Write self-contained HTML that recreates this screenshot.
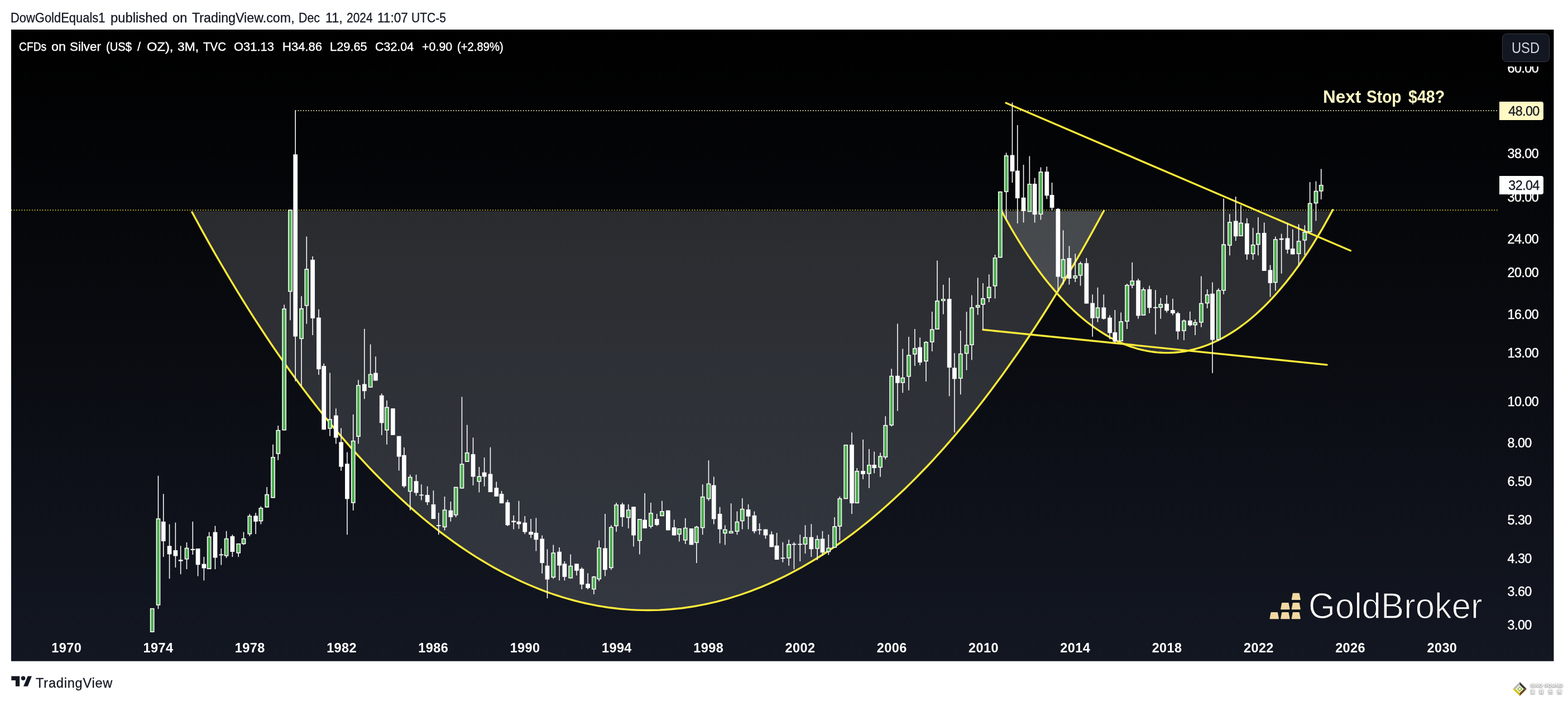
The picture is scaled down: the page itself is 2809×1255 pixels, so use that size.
<!DOCTYPE html>
<html lang="en">
<head>
<meta charset="utf-8">
<title>CFDs on Silver (US$ / OZ) - TradingView</title>
<style>
*{margin:0;padding:0;box-sizing:border-box}
html,body{width:2809px;height:1255px;background:#fff;overflow:hidden}
body{position:relative;font-family:"Liberation Sans","Noto Sans CJK TC",sans-serif;color:#131722}
.g{position:absolute;left:0;top:0}
.t{position:absolute;white-space:nowrap;line-height:1;transform-origin:0 0}
.hdr{top:20.8px;font-size:23.5px;color:#131722;-webkit-text-stroke:.3px #131722}
.lg{top:73px;font-size:22.5px;color:#fff;-webkit-text-stroke:.4px #fff}
.pl{position:absolute;left:2700.6px;width:80px;height:28px;line-height:28px;text-align:left;font-size:23.4px;letter-spacing:-.6px;color:#fff;white-space:nowrap;-webkit-text-stroke:.4px #fff}
.tl{position:absolute;top:1145.7px;width:80px;height:28px;line-height:28px;text-align:center;font-size:23.5px;letter-spacing:.4px;font-weight:bold;color:#fff;white-space:nowrap}
.mask{position:absolute;left:2686px;top:53px;width:97px;height:65.5px;background:linear-gradient(#000,#010102)}
.usd{position:absolute;left:2691px;top:60px;width:84.5px;height:50.5px;border:1.5px solid #363a45;border-radius:8px;background:#131722;color:#d1d4dc;font-size:27.5px;line-height:48px;text-align:center}
.usd span{display:inline-block;transform:scaleX(.865);position:relative;top:.8px}
.tag{position:absolute;left:2685.8px;width:79px;height:32.8px;border-radius:.5px 4px 4px .5px;line-height:34.2px;font-size:23.4px;letter-spacing:-.6px;color:#131722;text-align:right;padding-right:7px;white-space:nowrap;-webkit-text-stroke:.3px #131722}
.note{top:158.2px;font-size:31.4px;font-weight:bold;color:#fff9c4}
.gb{left:2344.2px;top:1051.8px;font-size:65.3px;color:#fff;transform:scaleX(.943);-webkit-text-stroke:1.3px #12151e}
.tv{left:64px;top:1211.7px;font-size:23.5px;letter-spacing:.8px;color:#131722;-webkit-text-stroke:.3px #131722}
.wm{position:absolute;left:2741px;top:1223.3px;width:58px;color:#fff;font-weight:bold;text-shadow:0 1px 2px rgba(0,0,0,.55),0 0 3px rgba(0,0,0,.35);white-space:nowrap;line-height:1}
</style>
</head>
<body>
<svg class="g" width="2809" height="1255" viewBox="0 0 2809 1255">
<defs><linearGradient id="bg" x1="0" y1="0" x2="0" y2="1"><stop offset="0" stop-color="#000000"/><stop offset="1" stop-color="#131722"/></linearGradient><clipPath id="pc"><rect x="20" y="53" width="2665.5" height="1079"/></clipPath></defs>
<rect x="20" y="53" width="2763.5" height="1130.7" fill="url(#bg)"/>
<path d="M344 378 L344 379.7 L354.2 398.5 L364.4 417.1 L374.6 435.3 L384.8 453.3 L395.1 471 L405.3 488.4 L415.5 505.5 L425.7 522.3 L435.9 538.8 L446.1 555.1 L456.3 571.1 L466.5 586.8 L476.7 602.3 L486.9 617.5 L497.1 632.4 L507.4 647.1 L517.6 661.5 L527.8 675.6 L538 689.4 L548.2 703.1 L558.4 716.4 L568.6 729.5 L578.8 742.3 L589 754.9 L599.2 767.3 L609.5 779.4 L619.7 791.2 L629.9 802.8 L640.1 814.1 L650.3 825.2 L660.5 836.1 L670.7 846.7 L680.9 857.1 L691.1 867.3 L701.4 877.2 L711.6 886.8 L721.8 896.3 L732 905.5 L742.2 914.4 L752.4 923.2 L762.6 931.7 L772.8 940 L783 948 L793.2 955.8 L803.5 963.4 L813.7 970.8 L823.9 978 L834.1 984.9 L844.3 991.6 L854.5 998.1 L864.7 1004.3 L874.9 1010.4 L885.1 1016.2 L895.3 1021.8 L905.5 1027.2 L915.8 1032.3 L926 1037.3 L936.2 1042 L946.4 1046.5 L956.6 1050.8 L966.8 1054.9 L977 1058.8 L987.2 1062.5 L997.4 1065.9 L1007.6 1069.2 L1017.9 1072.2 L1028.1 1075 L1038.3 1077.6 L1048.5 1080 L1058.7 1082.2 L1068.9 1084.2 L1079.1 1085.9 L1089.3 1087.5 L1099.5 1088.8 L1109.8 1090 L1120 1090.9 L1130.2 1091.6 L1140.4 1092.1 L1150.6 1092.4 L1160.8 1092.5 L1171 1092.4 L1181.2 1092.1 L1191.4 1091.5 L1201.6 1090.8 L1211.8 1089.8 L1222.1 1088.7 L1232.3 1087.3 L1242.5 1085.7 L1252.7 1083.9 L1262.9 1081.9 L1273.1 1079.7 L1283.3 1077.3 L1293.5 1074.6 L1303.7 1071.8 L1314 1068.7 L1324.2 1065.5 L1334.4 1062 L1344.6 1058.3 L1354.8 1054.4 L1365 1050.3 L1375.2 1046 L1385.4 1041.4 L1395.6 1036.6 L1405.8 1031.7 L1416 1026.5 L1426.3 1021.1 L1436.5 1015.4 L1446.7 1009.6 L1456.9 1003.5 L1467.1 997.2 L1477.3 990.7 L1487.5 984 L1497.7 977 L1507.9 969.8 L1518.2 962.4 L1528.4 954.8 L1538.6 947 L1548.8 938.9 L1559 930.6 L1569.2 922 L1579.4 913.3 L1589.6 904.3 L1599.8 895 L1610 885.6 L1620.2 875.9 L1630.5 865.9 L1640.7 855.7 L1650.9 845.3 L1661.1 834.7 L1671.3 823.8 L1681.5 812.6 L1691.7 801.3 L1701.9 789.6 L1712.1 777.8 L1722.3 765.6 L1732.6 753.3 L1742.8 740.6 L1753 727.8 L1763.2 714.6 L1773.4 701.3 L1783.6 687.6 L1793.8 673.7 L1804 659.5 L1814.2 645.1 L1824.5 630.4 L1834.7 615.5 L1844.9 600.3 L1855.1 584.8 L1865.3 569 L1875.5 553 L1885.7 536.7 L1895.9 520.1 L1906.1 503.2 L1916.3 486.1 L1926.5 468.6 L1936.8 450.9 L1947 432.9 L1957.2 414.6 L1967.4 396 L1977.6 377.2 L1977.6 378 Z" fill="#b2b3b9" fill-opacity="0.215"/>
<path d="M1794.4 378 L1794.4 378.1 L1800.3 389 L1806.3 399.6 L1812.2 410 L1818.1 420 L1824.1 429.8 L1830 439.3 L1835.9 448.6 L1841.9 457.6 L1847.8 466.3 L1853.7 474.7 L1859.7 482.9 L1865.6 490.9 L1871.5 498.6 L1877.4 506 L1883.4 513.2 L1889.3 520.2 L1895.2 527 L1901.2 533.5 L1907.1 539.7 L1913 545.8 L1919 551.6 L1924.9 557.2 L1930.8 562.6 L1936.8 567.8 L1942.7 572.7 L1948.6 577.5 L1954.6 582 L1960.5 586.3 L1966.4 590.4 L1972.4 594.3 L1978.3 598 L1984.2 601.5 L1990.2 604.9 L1996.1 608 L2002 610.9 L2008 613.6 L2013.9 616.1 L2019.8 618.4 L2025.7 620.6 L2031.7 622.5 L2037.6 624.3 L2043.5 625.8 L2049.5 627.2 L2055.4 628.4 L2061.3 629.4 L2067.3 630.2 L2073.2 630.9 L2079.1 631.3 L2085.1 631.6 L2091 631.6 L2096.9 631.5 L2102.9 631.2 L2108.8 630.7 L2114.7 630.1 L2120.7 629.2 L2126.6 628.2 L2132.5 626.9 L2138.5 625.5 L2144.4 623.9 L2150.3 622.1 L2156.3 620.1 L2162.2 618 L2168.1 615.6 L2174 613 L2180 610.3 L2185.9 607.3 L2191.8 604.2 L2197.8 600.8 L2203.7 597.3 L2209.6 593.5 L2215.6 589.6 L2221.5 585.4 L2227.4 581 L2233.4 576.5 L2239.3 571.7 L2245.2 566.7 L2251.2 561.5 L2257.1 556 L2263 550.4 L2269 544.5 L2274.9 538.4 L2280.8 532.1 L2286.8 525.5 L2292.7 518.7 L2298.6 511.7 L2304.6 504.4 L2310.5 496.9 L2316.4 489.2 L2322.3 481.2 L2328.3 472.9 L2334.2 464.4 L2340.1 455.6 L2346.1 446.6 L2352 437.3 L2357.9 427.7 L2363.9 417.9 L2369.8 407.8 L2375.7 397.4 L2381.7 386.7 L2387.6 375.7 L2387.6 378 Z" fill="#b2b3b9" fill-opacity="0.215"/>
<line x1="529" y1="198.1" x2="2684.5" y2="198.1" stroke="#fff9c4" stroke-width="1.6" stroke-dasharray="1.6 3.036"/>
<line x1="20" y1="376.2" x2="2684.5" y2="376.2" stroke="#ffeb3b" stroke-width="1.6" stroke-dasharray="1.6 3.036"/>
<g fill="none" stroke="#ffeb3b" stroke-width="3.4" stroke-linecap="round" stroke-linejoin="round">
<path d="M344 379.7 L354.2 398.5 L364.4 417.1 L374.6 435.3 L384.8 453.3 L395.1 471 L405.3 488.4 L415.5 505.5 L425.7 522.3 L435.9 538.8 L446.1 555.1 L456.3 571.1 L466.5 586.8 L476.7 602.3 L486.9 617.5 L497.1 632.4 L507.4 647.1 L517.6 661.5 L527.8 675.6 L538 689.4 L548.2 703.1 L558.4 716.4 L568.6 729.5 L578.8 742.3 L589 754.9 L599.2 767.3 L609.5 779.4 L619.7 791.2 L629.9 802.8 L640.1 814.1 L650.3 825.2 L660.5 836.1 L670.7 846.7 L680.9 857.1 L691.1 867.3 L701.4 877.2 L711.6 886.8 L721.8 896.3 L732 905.5 L742.2 914.4 L752.4 923.2 L762.6 931.7 L772.8 940 L783 948 L793.2 955.8 L803.5 963.4 L813.7 970.8 L823.9 978 L834.1 984.9 L844.3 991.6 L854.5 998.1 L864.7 1004.3 L874.9 1010.4 L885.1 1016.2 L895.3 1021.8 L905.5 1027.2 L915.8 1032.3 L926 1037.3 L936.2 1042 L946.4 1046.5 L956.6 1050.8 L966.8 1054.9 L977 1058.8 L987.2 1062.5 L997.4 1065.9 L1007.6 1069.2 L1017.9 1072.2 L1028.1 1075 L1038.3 1077.6 L1048.5 1080 L1058.7 1082.2 L1068.9 1084.2 L1079.1 1085.9 L1089.3 1087.5 L1099.5 1088.8 L1109.8 1090 L1120 1090.9 L1130.2 1091.6 L1140.4 1092.1 L1150.6 1092.4 L1160.8 1092.5 L1171 1092.4 L1181.2 1092.1 L1191.4 1091.5 L1201.6 1090.8 L1211.8 1089.8 L1222.1 1088.7 L1232.3 1087.3 L1242.5 1085.7 L1252.7 1083.9 L1262.9 1081.9 L1273.1 1079.7 L1283.3 1077.3 L1293.5 1074.6 L1303.7 1071.8 L1314 1068.7 L1324.2 1065.5 L1334.4 1062 L1344.6 1058.3 L1354.8 1054.4 L1365 1050.3 L1375.2 1046 L1385.4 1041.4 L1395.6 1036.6 L1405.8 1031.7 L1416 1026.5 L1426.3 1021.1 L1436.5 1015.4 L1446.7 1009.6 L1456.9 1003.5 L1467.1 997.2 L1477.3 990.7 L1487.5 984 L1497.7 977 L1507.9 969.8 L1518.2 962.4 L1528.4 954.8 L1538.6 947 L1548.8 938.9 L1559 930.6 L1569.2 922 L1579.4 913.3 L1589.6 904.3 L1599.8 895 L1610 885.6 L1620.2 875.9 L1630.5 865.9 L1640.7 855.7 L1650.9 845.3 L1661.1 834.7 L1671.3 823.8 L1681.5 812.6 L1691.7 801.3 L1701.9 789.6 L1712.1 777.8 L1722.3 765.6 L1732.6 753.3 L1742.8 740.6 L1753 727.8 L1763.2 714.6 L1773.4 701.3 L1783.6 687.6 L1793.8 673.7 L1804 659.5 L1814.2 645.1 L1824.5 630.4 L1834.7 615.5 L1844.9 600.3 L1855.1 584.8 L1865.3 569 L1875.5 553 L1885.7 536.7 L1895.9 520.1 L1906.1 503.2 L1916.3 486.1 L1926.5 468.6 L1936.8 450.9 L1947 432.9 L1957.2 414.6 L1967.4 396 L1977.6 377.2"/>
<path d="M1794.4 378.1 L1800.3 389 L1806.3 399.6 L1812.2 410 L1818.1 420 L1824.1 429.8 L1830 439.3 L1835.9 448.6 L1841.9 457.6 L1847.8 466.3 L1853.7 474.7 L1859.7 482.9 L1865.6 490.9 L1871.5 498.6 L1877.4 506 L1883.4 513.2 L1889.3 520.2 L1895.2 527 L1901.2 533.5 L1907.1 539.7 L1913 545.8 L1919 551.6 L1924.9 557.2 L1930.8 562.6 L1936.8 567.8 L1942.7 572.7 L1948.6 577.5 L1954.6 582 L1960.5 586.3 L1966.4 590.4 L1972.4 594.3 L1978.3 598 L1984.2 601.5 L1990.2 604.9 L1996.1 608 L2002 610.9 L2008 613.6 L2013.9 616.1 L2019.8 618.4 L2025.7 620.6 L2031.7 622.5 L2037.6 624.3 L2043.5 625.8 L2049.5 627.2 L2055.4 628.4 L2061.3 629.4 L2067.3 630.2 L2073.2 630.9 L2079.1 631.3 L2085.1 631.6 L2091 631.6 L2096.9 631.5 L2102.9 631.2 L2108.8 630.7 L2114.7 630.1 L2120.7 629.2 L2126.6 628.2 L2132.5 626.9 L2138.5 625.5 L2144.4 623.9 L2150.3 622.1 L2156.3 620.1 L2162.2 618 L2168.1 615.6 L2174 613 L2180 610.3 L2185.9 607.3 L2191.8 604.2 L2197.8 600.8 L2203.7 597.3 L2209.6 593.5 L2215.6 589.6 L2221.5 585.4 L2227.4 581 L2233.4 576.5 L2239.3 571.7 L2245.2 566.7 L2251.2 561.5 L2257.1 556 L2263 550.4 L2269 544.5 L2274.9 538.4 L2280.8 532.1 L2286.8 525.5 L2292.7 518.7 L2298.6 511.7 L2304.6 504.4 L2310.5 496.9 L2316.4 489.2 L2322.3 481.2 L2328.3 472.9 L2334.2 464.4 L2340.1 455.6 L2346.1 446.6 L2352 437.3 L2357.9 427.7 L2363.9 417.9 L2369.8 407.8 L2375.7 397.4 L2381.7 386.7 L2387.6 375.7"/>
<path d="M1802.1 184.3 L2419.4 448.8"/>
<path d="M1760.9 590.2 L2377 653.1"/>
</g>
<g clip-path="url(#pc)">
<path d="M272.66 1088.9V1131.9M283.48 851.7V1090.2M292.75 884.3V997.1M303.57 938.5V1036M314.39 935.4V1015.9M323.66 977.3V1028.1M334.48 971.1V1019M345.3 933.8V993M354.57 982V1031.5M365.39 997.1V1039.3M374.66 952.6V1019M385.48 941.6V1019M396.3 982V1011.5M405.57 950.7V999M416.39 957.3V997.1M427.21 972.9V997.1M436.48 952.6V975.5M447.3 920.3V959.9M458.12 918.2V956M467.39 906.4V938.5M478.21 872.1V908.5M489.03 795.8V891.6M498.3 762V823.7M509.12 545.4V770.6M519.94 375.4V573.3M529.21 197.7V682.6M540.03 530.3V691.6M549.3 423.6V579.8M560.12 459.1V599.9M570.94 553.7V670.9M580.21 650.8V769.3M591.03 667.5V780.7M601.84 731.2V794.5M611.12 766.6V842.7M621.94 809.6V957.3M632.75 741.9V913.7M642.03 680.3V794.5M652.84 588.8V714.3M663.66 616.4V693.8M672.94 638.3V681.6M683.75 704.6V778.9M693.03 717.1V795.8M703.84 731.2V778.9M714.66 780.7V842.4M723.94 800.9V873.3M734.75 849.8V913.7M745.57 849.8V887.4M754.84 867.3V895.4M765.66 870.4V904.3M776.48 878.2V929.1M785.75 918.1V957.2M796.57 888.9V949.4M807.39 898V933.7M816.66 871.7V925.9M827.48 710.6V874.6M836.75 760.7V826.9M847.57 783.4V869.1M858.39 836V881.6M867.66 819.1V870.7M878.48 800.8V881.1M889.3 862.6V888.9M898.57 879V901.2M909.39 894.7V942.1M920.21 922.8V947.6M929.48 896.7V946.8M940.3 924.1V955.9M951.12 929.1V963.2M960.39 927.2V986.6M971.21 958.5V1026.8M980.48 983.3V1071.3M991.3 975.4V1036.2M1002.12 980.1V1039.3M1011.39 1004.9V1039.3M1022.21 992.4V1035.4M1033.03 1009.3V1030.2M1042.3 1015.8V1054.9M1053.12 1026.3V1054.9M1063.93 1030.9V1064M1073.21 967.6V1040.6M1084.02 919.9V1031.5M1094.84 940.3V1020.3M1104.12 899.9V952M1114.93 899.9V942.9M1125.75 903V946M1135.02 907.2V978.6M1145.84 929.1V992.4M1155.12 882.9V946M1165.93 899.9V946M1176.75 919.9V941.6M1186.02 896.7V924.1M1196.84 913.7V949.4M1207.66 930.6V958.5M1216.93 946V969.4M1227.75 927.8V974.1M1238.57 946V975.4M1247.84 941.6V1008M1258.66 867.3V957.2M1269.48 824.3V896.5M1278.75 853.5V938.4M1289.57 907.7V972.8M1298.84 940.3V975.4M1309.66 901.2V955.1M1320.48 915.5V957.2M1329.75 892.1V947.6M1340.57 903V947.6M1351.39 915.5V955.1M1360.66 936.9V957.2M1371.48 947.6V964.5M1382.3 951.2V979.3M1391.57 954.1V1002M1402.39 970.7V1006.7M1413.21 966.3V1012.7M1422.48 970.7V1019M1433.3 957.2V1004.9M1442.57 940.3V991.1M1453.39 938.2V997.1M1464.21 958.5V1002.8M1473.48 950.7V995M1484.3 957.1V993.6M1495.11 925.9V980.6M1504.39 888.9V967.6M1515.21 796.1V893.3M1526.02 774.2V919.9M1535.3 838V901.1M1546.11 787V858.1M1556.93 803.9V873.7M1566.21 808.6V847.2M1577.02 810.4V853.7M1586.3 745.3V822.4M1597.11 660.2V763.5M1607.93 579.4V735.7M1617.21 624.5V703.2M1628.02 602.9V698.8M1638.84 589.1V655M1648.11 604.2V653.7M1658.93 610.7V683.1M1669.75 558V628.9M1679.02 466.6V589.8M1689.84 509.8V562.5M1700.66 497.3V709.2M1709.93 632.3V774.2M1720.75 591.9V706.3M1731.57 558V662.8M1740.84 528.6V644.6M1751.66 497.3V563.8M1760.93 507V590.6M1771.75 491.3V541.1M1782.57 455.9V534.6M1791.84 342.8V461.4M1802.66 273.5V394.1M1813.48 183.6V327.1M1822.75 223.9V400.1M1833.57 295.1V398.5M1844.39 279.4V379.3M1853.66 318.5V398.5M1864.48 299.5V393.6M1875.3 298.2V356.3M1884.57 327.1V376.6M1895.39 372.5V521M1904.66 412.3V509.6M1915.48 440.4V509.6M1926.3 454.2V505.1M1935.57 468.3V511.6M1946.39 462V543.5M1957.2 527.2V602.8M1966.48 514.7V576.7M1977.3 527.2V572M1988.11 564.2V607.2M1997.39 555V615M2008.2 559.5V611.1M2019.02 508.1V588.9M2028.29 469.8V516M2039.11 499V570.7M2048.39 514.7V565M2059.2 511.5V560.8M2070.02 519.3V598.6M2079.29 533.4V570.7M2090.11 528.5V559.5M2100.93 534.7V564.2M2110.2 558.2V607.7M2121.02 572V609M2131.84 557.7V584.2M2141.11 572V599.9M2151.93 494.6V585.8M2162.75 518V551.9M2172.02 505.5V667.9M2182.84 516.3V610.3M2192.11 355.6V526.9M2202.93 383.3V457.3M2213.75 352V431.2M2223.02 367.6V422.9M2233.84 390.8V465.1M2244.66 407.8V465.1M2253.93 389V457.3M2264.75 398.6V485M2275.57 474.6V531.6M2284.84 423.4V520.6M2295.66 418.4V489.8M2306.48 398.9V454.1M2315.75 410.6V455.4M2326.57 401.5V475.8M2337.38 403.3V456.7M2346.66 325.9V415.6M2357.48 324.4V395.5M2366.75 302.5V356.9" stroke="#fff" stroke-width="1.55" fill="none"/>
<g fill="#fff"><rect x="268.8" y="1088.9" width="7.73" height="43"/><rect x="279.62" y="928.1" width="7.73" height="155.6"/><rect x="288.88" y="933.8" width="7.73" height="35.2"/><rect x="299.7" y="977.3" width="7.73" height="15.1"/><rect x="310.52" y="985.1" width="7.73" height="10.4"/><rect x="319.8" y="1002.1" width="7.73" height="2.6"/><rect x="330.62" y="980.7" width="7.73" height="20.8"/><rect x="341.44" y="982.8" width="7.73" height="2.1"/><rect x="350.7" y="982" width="7.73" height="29.2"/><rect x="361.52" y="1009.6" width="7.73" height="7.8"/><rect x="370.8" y="960.4" width="7.73" height="58.6"/><rect x="381.62" y="952.6" width="7.73" height="45.9"/><rect x="392.44" y="992.4" width="7.73" height="1.8"/><rect x="401.7" y="963.8" width="7.73" height="31.8"/><rect x="412.52" y="959.9" width="7.73" height="28.1"/><rect x="423.34" y="972.9" width="7.73" height="17.7"/><rect x="432.62" y="963.8" width="7.73" height="10.4"/><rect x="443.44" y="923.4" width="7.73" height="33.1"/><rect x="454.25" y="923.4" width="7.73" height="10.4"/><rect x="463.52" y="909.1" width="7.73" height="24.2"/><rect x="474.34" y="884.8" width="7.73" height="23.7"/><rect x="485.16" y="818" width="7.73" height="73.6"/><rect x="494.44" y="769.8" width="7.73" height="43"/><rect x="505.25" y="552.4" width="7.73" height="218.1"/><rect x="516.08" y="375.4" width="7.73" height="147"/><rect x="525.35" y="276.4" width="7.73" height="326.1"/><rect x="536.16" y="551.9" width="7.73" height="55.1"/><rect x="545.43" y="481.3" width="7.73" height="66.4"/><rect x="556.25" y="465" width="7.73" height="104.9"/><rect x="567.08" y="568.6" width="7.73" height="92.5"/><rect x="576.35" y="655.2" width="7.73" height="114"/><rect x="587.16" y="750.2" width="7.73" height="17.5"/><rect x="597.98" y="743.7" width="7.73" height="39.9"/><rect x="607.25" y="791.4" width="7.73" height="44.3"/><rect x="618.08" y="830.2" width="7.73" height="63.2"/><rect x="628.88" y="788.8" width="7.73" height="111.9"/><rect x="638.16" y="689.4" width="7.73" height="92.6"/><rect x="648.98" y="687.6" width="7.73" height="12.6"/><rect x="659.79" y="669.6" width="7.73" height="24.2"/><rect x="669.08" y="667.6" width="7.73" height="13.9"/><rect x="679.88" y="707.8" width="7.73" height="49.5"/><rect x="689.16" y="728.6" width="7.73" height="42"/><rect x="699.98" y="731.2" width="7.73" height="47.7"/><rect x="710.79" y="780.7" width="7.73" height="36.9"/><rect x="720.08" y="814.8" width="7.73" height="55.7"/><rect x="730.88" y="853.7" width="7.73" height="26.6"/><rect x="741.71" y="861.3" width="7.73" height="21.1"/><rect x="750.98" y="885.5" width="7.73" height="1.8"/><rect x="761.79" y="886.1" width="7.73" height="13"/><rect x="772.62" y="903" width="7.73" height="26.1"/><rect x="781.88" y="940" width="7.73" height="1.8"/><rect x="792.71" y="912.4" width="7.73" height="31.8"/><rect x="803.52" y="913.7" width="7.73" height="12.2"/><rect x="812.79" y="871.7" width="7.73" height="50.8"/><rect x="823.62" y="830.3" width="7.73" height="44.3"/><rect x="832.88" y="810" width="7.73" height="16.9"/><rect x="843.71" y="813.1" width="7.73" height="40.4"/><rect x="854.52" y="852.4" width="7.73" height="10.2"/><rect x="863.79" y="845.7" width="7.73" height="7.8"/><rect x="874.62" y="848.5" width="7.73" height="32.6"/><rect x="885.43" y="873.3" width="7.73" height="15.6"/><rect x="894.71" y="884.2" width="7.73" height="16.9"/><rect x="905.52" y="899.3" width="7.73" height="40.9"/><rect x="916.35" y="932.4" width="7.73" height="2.6"/><rect x="925.62" y="933.7" width="7.73" height="4.7"/><rect x="936.43" y="935.6" width="7.73" height="16.9"/><rect x="947.25" y="952" width="7.73" height="5.2"/><rect x="956.52" y="953.8" width="7.73" height="12.5"/><rect x="967.35" y="964.5" width="7.73" height="43.5"/><rect x="976.62" y="1012.7" width="7.73" height="24.8"/><rect x="987.43" y="989.3" width="7.73" height="44.8"/><rect x="998.25" y="987.7" width="7.73" height="24.8"/><rect x="1007.52" y="1009.3" width="7.73" height="23.5"/><rect x="1018.35" y="1012.7" width="7.73" height="22.7"/><rect x="1029.16" y="1009.3" width="7.73" height="12.5"/><rect x="1038.43" y="1018.4" width="7.73" height="28.1"/><rect x="1049.25" y="1045" width="7.73" height="7.8"/><rect x="1060.07" y="1032.2" width="7.73" height="23.2"/><rect x="1069.35" y="980.1" width="7.73" height="57.1"/><rect x="1080.15" y="981.4" width="7.73" height="38.8"/><rect x="1090.97" y="943.4" width="7.73" height="73.7"/><rect x="1100.25" y="903.3" width="7.73" height="38.8"/><rect x="1111.07" y="903" width="7.73" height="22.9"/><rect x="1121.88" y="912.4" width="7.73" height="14.9"/><rect x="1131.15" y="907.2" width="7.73" height="51.3"/><rect x="1141.97" y="929.1" width="7.73" height="39.3"/><rect x="1151.25" y="930.6" width="7.73" height="15.4"/><rect x="1162.07" y="918.1" width="7.73" height="24.8"/><rect x="1172.88" y="929.1" width="7.73" height="10.7"/><rect x="1182.15" y="915" width="7.73" height="9.1"/><rect x="1192.97" y="913.7" width="7.73" height="35.7"/><rect x="1203.8" y="944.2" width="7.73" height="14.3"/><rect x="1213.07" y="946" width="7.73" height="11.2"/><rect x="1223.88" y="944.7" width="7.73" height="22.9"/><rect x="1234.7" y="946" width="7.73" height="29.4"/><rect x="1243.97" y="942.9" width="7.73" height="29.2"/><rect x="1254.8" y="888.9" width="7.73" height="56.5"/><rect x="1265.62" y="865.5" width="7.73" height="27.9"/><rect x="1274.88" y="868.6" width="7.73" height="60.7"/><rect x="1285.7" y="919.9" width="7.73" height="27.6"/><rect x="1294.97" y="947.6" width="7.73" height="7.6"/><rect x="1305.8" y="950.7" width="7.73" height="4.4"/><rect x="1316.62" y="933.7" width="7.73" height="18.2"/><rect x="1325.88" y="910.8" width="7.73" height="22.4"/><rect x="1336.7" y="912.1" width="7.73" height="12.5"/><rect x="1347.53" y="922.8" width="7.73" height="28.4"/><rect x="1356.8" y="947.6" width="7.73" height="1.8"/><rect x="1367.62" y="947.6" width="7.73" height="10.9"/><rect x="1378.43" y="956.7" width="7.73" height="22.7"/><rect x="1387.7" y="976.7" width="7.73" height="25.3"/><rect x="1398.53" y="998.4" width="7.73" height="1.8"/><rect x="1409.35" y="974.1" width="7.73" height="25.5"/><rect x="1418.62" y="973.6" width="7.73" height="1.8"/><rect x="1429.43" y="973.6" width="7.73" height="1.8"/><rect x="1438.7" y="961.6" width="7.73" height="13.3"/><rect x="1449.53" y="961.6" width="7.73" height="21.6"/><rect x="1460.35" y="965" width="7.73" height="17.7"/><rect x="1469.62" y="964.5" width="7.73" height="24.8"/><rect x="1480.43" y="980.6" width="7.73" height="7.8"/><rect x="1491.24" y="942" width="7.73" height="38.6"/><rect x="1500.53" y="892" width="7.73" height="50.8"/><rect x="1511.35" y="796.1" width="7.73" height="97.2"/><rect x="1522.15" y="796.1" width="7.73" height="105"/><rect x="1531.43" y="843" width="7.73" height="58.1"/><rect x="1542.24" y="843" width="7.73" height="6"/><rect x="1553.07" y="832.1" width="7.73" height="16.4"/><rect x="1562.35" y="832.1" width="7.73" height="6"/><rect x="1573.15" y="816.4" width="7.73" height="20.8"/><rect x="1582.43" y="760.9" width="7.73" height="58.1"/><rect x="1593.24" y="672.7" width="7.73" height="89"/><rect x="1604.07" y="672.7" width="7.73" height="13"/><rect x="1613.35" y="675.8" width="7.73" height="9.9"/><rect x="1624.15" y="635.4" width="7.73" height="39.1"/><rect x="1634.97" y="623.2" width="7.73" height="11.5"/><rect x="1644.24" y="621.6" width="7.73" height="27.4"/><rect x="1655.07" y="612" width="7.73" height="35.2"/><rect x="1665.88" y="589.3" width="7.73" height="23.5"/><rect x="1675.15" y="538.2" width="7.73" height="51.6"/><rect x="1685.97" y="535.1" width="7.73" height="3.9"/><rect x="1696.8" y="535.1" width="7.73" height="123"/><rect x="1706.07" y="658.4" width="7.73" height="20.1"/><rect x="1716.88" y="632.8" width="7.73" height="45.1"/><rect x="1727.7" y="617.2" width="7.73" height="16.2"/><rect x="1736.97" y="550.2" width="7.73" height="67.8"/><rect x="1747.8" y="546.1" width="7.73" height="4.7"/><rect x="1757.07" y="533.8" width="7.73" height="11.7"/><rect x="1767.88" y="513.5" width="7.73" height="20.3"/><rect x="1778.7" y="461.1" width="7.73" height="51.4"/><rect x="1787.97" y="342.8" width="7.73" height="118.6"/><rect x="1798.8" y="278.1" width="7.73" height="65.7"/><rect x="1809.62" y="277.6" width="7.73" height="29.2"/><rect x="1818.88" y="305.5" width="7.73" height="49.5"/><rect x="1829.7" y="353.7" width="7.73" height="24.2"/><rect x="1840.53" y="329" width="7.73" height="50.3"/><rect x="1849.8" y="329" width="7.73" height="55.2"/><rect x="1860.62" y="307.3" width="7.73" height="76.9"/><rect x="1871.43" y="307.3" width="7.73" height="43"/><rect x="1880.7" y="349" width="7.73" height="22.9"/><rect x="1891.53" y="374" width="7.73" height="121.5"/><rect x="1900.8" y="463.9" width="7.73" height="34.1"/><rect x="1911.62" y="462" width="7.73" height="36.8"/><rect x="1922.43" y="493.2" width="7.73" height="5.3"/><rect x="1931.7" y="471.2" width="7.73" height="22.4"/><rect x="1942.53" y="471.2" width="7.73" height="72.3"/><rect x="1953.34" y="542.5" width="7.73" height="27.2"/><rect x="1962.62" y="550.4" width="7.73" height="19"/><rect x="1973.43" y="550.4" width="7.73" height="20.3"/><rect x="1984.24" y="568.6" width="7.73" height="27.6"/><rect x="1993.53" y="594.9" width="7.73" height="16.7"/><rect x="2004.34" y="575.1" width="7.73" height="36"/><rect x="2015.15" y="510" width="7.73" height="65.9"/><rect x="2024.42" y="502.4" width="7.73" height="8.9"/><rect x="2035.24" y="502.1" width="7.73" height="63.3"/><rect x="2044.52" y="518" width="7.73" height="46.9"/><rect x="2055.34" y="517.8" width="7.73" height="33.4"/><rect x="2066.16" y="549.8" width="7.73" height="1.8"/><rect x="2075.43" y="544.1" width="7.73" height="7"/><rect x="2086.25" y="543.8" width="7.73" height="12.5"/><rect x="2097.07" y="555" width="7.73" height="6"/><rect x="2106.34" y="560.8" width="7.73" height="32.6"/><rect x="2117.16" y="573.8" width="7.73" height="19"/><rect x="2127.98" y="573.8" width="7.73" height="8.6"/><rect x="2137.25" y="576.7" width="7.73" height="5.7"/><rect x="2148.07" y="542.6" width="7.73" height="35.1"/><rect x="2158.89" y="527.1" width="7.73" height="16.2"/><rect x="2168.16" y="525.7" width="7.73" height="82.8"/><rect x="2178.98" y="519.3" width="7.73" height="89.2"/><rect x="2188.25" y="437.2" width="7.73" height="83.3"/><rect x="2199.07" y="397.3" width="7.73" height="42.5"/><rect x="2209.89" y="395.5" width="7.73" height="27.7"/><rect x="2219.16" y="398.6" width="7.73" height="24.3"/><rect x="2229.98" y="399.9" width="7.73" height="55.5"/><rect x="2240.8" y="437.8" width="7.73" height="17.3"/><rect x="2250.07" y="417.3" width="7.73" height="21.1"/><rect x="2260.89" y="416.9" width="7.73" height="68.1"/><rect x="2271.71" y="483.4" width="7.73" height="23.5"/><rect x="2280.98" y="428.1" width="7.73" height="78.2"/><rect x="2291.8" y="426.8" width="7.73" height="2.6"/><rect x="2302.62" y="426.3" width="7.73" height="20.6"/><rect x="2311.89" y="445" width="7.73" height="10.4"/><rect x="2322.71" y="431.2" width="7.73" height="23.7"/><rect x="2333.52" y="415" width="7.73" height="15.6"/><rect x="2342.8" y="363.5" width="7.73" height="52.1"/><rect x="2353.62" y="341.6" width="7.73" height="22.7"/><rect x="2362.89" y="330.9" width="7.73" height="11.7"/></g>
<g fill="#4caf50"><rect x="270.35" y="1090.4" width="4.63" height="39.9"/><rect x="281.17" y="929.6" width="4.63" height="152.5"/><rect x="332.17" y="982.3" width="4.63" height="17.7"/><rect x="372.35" y="961.9" width="4.63" height="55.5"/><rect x="403.25" y="965.3" width="4.63" height="28.7"/><rect x="424.89" y="974.4" width="4.63" height="14.6"/><rect x="434.17" y="965.3" width="4.63" height="7.3"/><rect x="444.99" y="924.9" width="4.63" height="30"/><rect x="465.07" y="910.6" width="4.63" height="21.1"/><rect x="475.89" y="886.4" width="4.63" height="20.6"/><rect x="486.71" y="819.5" width="4.63" height="70.5"/><rect x="495.99" y="771.3" width="4.63" height="39.9"/><rect x="506.81" y="554" width="4.63" height="215"/><rect x="517.62" y="377" width="4.63" height="143.9"/><rect x="537.71" y="553.5" width="4.63" height="52"/><rect x="546.98" y="482.9" width="4.63" height="63.3"/><rect x="588.71" y="751.8" width="4.63" height="14.4"/><rect x="630.43" y="790.3" width="4.63" height="108.8"/><rect x="639.71" y="690.9" width="4.63" height="89.5"/><rect x="661.34" y="671.1" width="4.63" height="21.1"/><rect x="690.71" y="730.1" width="4.63" height="38.9"/><rect x="732.43" y="855.3" width="4.63" height="23.5"/><rect x="794.25" y="913.9" width="4.63" height="28.7"/><rect x="814.34" y="873.3" width="4.63" height="47.7"/><rect x="825.16" y="831.8" width="4.63" height="41.2"/><rect x="834.43" y="811.5" width="4.63" height="13.8"/><rect x="856.07" y="854" width="4.63" height="7.1"/><rect x="988.98" y="990.8" width="4.63" height="41.7"/><rect x="1019.89" y="1014.3" width="4.63" height="19.6"/><rect x="1061.62" y="1033.8" width="4.63" height="20.1"/><rect x="1070.89" y="981.7" width="4.63" height="54"/><rect x="1092.52" y="944.9" width="4.63" height="70.6"/><rect x="1101.8" y="904.8" width="4.63" height="35.7"/><rect x="1123.43" y="913.9" width="4.63" height="11.8"/><rect x="1143.52" y="930.6" width="4.63" height="36.2"/><rect x="1163.62" y="919.7" width="4.63" height="21.7"/><rect x="1183.7" y="916.5" width="4.63" height="6"/><rect x="1214.62" y="947.5" width="4.63" height="8.1"/><rect x="1225.43" y="946.2" width="4.63" height="19.8"/><rect x="1245.52" y="944.4" width="4.63" height="26.1"/><rect x="1256.35" y="890.5" width="4.63" height="53.4"/><rect x="1267.16" y="867" width="4.63" height="24.8"/><rect x="1296.52" y="949.1" width="4.63" height="4.5"/><rect x="1307.35" y="952" width="4.63" height="1.8"/><rect x="1318.16" y="935.3" width="4.63" height="15.1"/><rect x="1327.43" y="912.4" width="4.63" height="19.3"/><rect x="1410.89" y="975.7" width="4.63" height="22.4"/><rect x="1440.25" y="963.2" width="4.63" height="10.2"/><rect x="1461.89" y="966.6" width="4.63" height="14.6"/><rect x="1481.98" y="982.1" width="4.63" height="4.7"/><rect x="1492.79" y="943.6" width="4.63" height="35.5"/><rect x="1502.08" y="893.5" width="4.63" height="47.7"/><rect x="1512.89" y="797.6" width="4.63" height="94.1"/><rect x="1532.98" y="844.5" width="4.63" height="55"/><rect x="1554.62" y="833.6" width="4.63" height="13.3"/><rect x="1574.7" y="818" width="4.63" height="17.7"/><rect x="1583.98" y="762.5" width="4.63" height="55"/><rect x="1594.79" y="674.3" width="4.63" height="85.9"/><rect x="1614.89" y="677.4" width="4.63" height="6.8"/><rect x="1625.7" y="637" width="4.63" height="36"/><rect x="1636.52" y="624.7" width="4.63" height="8.4"/><rect x="1656.62" y="613.5" width="4.63" height="32.1"/><rect x="1667.43" y="590.9" width="4.63" height="20.4"/><rect x="1676.7" y="539.8" width="4.63" height="48.5"/><rect x="1687.52" y="536.3" width="4.63" height="1.6"/><rect x="1718.43" y="634.4" width="4.63" height="42"/><rect x="1729.25" y="618.7" width="4.63" height="13.1"/><rect x="1738.52" y="551.8" width="4.63" height="64.7"/><rect x="1749.35" y="547.5" width="4.63" height="1.9"/><rect x="1758.62" y="535.4" width="4.63" height="8.6"/><rect x="1769.43" y="515" width="4.63" height="17.2"/><rect x="1780.25" y="462.6" width="4.63" height="48.3"/><rect x="1789.52" y="344.3" width="4.63" height="115.5"/><rect x="1800.35" y="279.7" width="4.63" height="62.6"/><rect x="1842.08" y="330.5" width="4.63" height="47.2"/><rect x="1862.16" y="308.9" width="4.63" height="73.8"/><rect x="1902.35" y="465.5" width="4.63" height="31"/><rect x="1923.98" y="494.8" width="4.63" height="2.2"/><rect x="1933.25" y="472.8" width="4.63" height="19.3"/><rect x="1964.16" y="551.9" width="4.63" height="15.9"/><rect x="2005.88" y="576.7" width="4.63" height="32.9"/><rect x="2016.7" y="511.5" width="4.63" height="62.8"/><rect x="2025.97" y="504" width="4.63" height="5.8"/><rect x="2046.07" y="519.6" width="4.63" height="43.8"/><rect x="2076.98" y="545.7" width="4.63" height="3.9"/><rect x="2118.71" y="575.4" width="4.63" height="15.9"/><rect x="2138.8" y="578.2" width="4.63" height="2.6"/><rect x="2149.62" y="544.2" width="4.63" height="32"/><rect x="2160.44" y="528.7" width="4.63" height="13.1"/><rect x="2180.53" y="520.9" width="4.63" height="86.1"/><rect x="2189.8" y="438.8" width="4.63" height="80.2"/><rect x="2200.62" y="398.9" width="4.63" height="39.4"/><rect x="2220.71" y="400.2" width="4.63" height="21.2"/><rect x="2242.35" y="439.3" width="4.63" height="14.2"/><rect x="2251.62" y="418.8" width="4.63" height="18"/><rect x="2282.53" y="429.6" width="4.63" height="75.1"/><rect x="2324.26" y="432.8" width="4.63" height="20.6"/><rect x="2335.07" y="416.6" width="4.63" height="12.5"/><rect x="2344.35" y="365" width="4.63" height="49"/><rect x="2355.17" y="343.1" width="4.63" height="19.6"/><rect x="2364.44" y="332.4" width="4.63" height="8.6"/></g>
</g>
<g fill="#131722"><path d="M20.3 1210.6H35.2V1228.7H27.9V1217.9H20.3Z"/><circle cx="41.6" cy="1214.3" r="3.8"/><path d="M49.7 1210.6H57L49.7 1228.7H42Z"/></g><g fill="#f2d8a2" stroke="#f2d8a2" stroke-width="1.6" stroke-linejoin="round"><path d="M2316.6 1062.5H2327L2329 1073.3H2314.6Z"/><path d="M2297 1079.7H2307.8L2309.8 1090.4H2295Z"/><path d="M2316.6 1079.7H2327L2329 1090.4H2314.6Z"/><path d="M2277.4 1096.7H2288.2L2290.2 1107.5H2275.4Z"/><path d="M2297 1096.7H2307.8L2309.8 1107.5H2295Z"/><path d="M2316.6 1096.7H2327L2329 1107.5H2314.6Z"/></g><g><path d="M2709.9 1233.4L2722.5 1220.8L2722.5 1233.4Z" fill="#b9b9b9"/><path d="M2722.5 1220.8L2735.1 1233.4L2722.5 1233.4Z" fill="#3a3a3a"/><path d="M2709.9 1233.4L2722.5 1246L2722.5 1233.4Z" fill="#d9c21f"/><path d="M2735.1 1233.4L2722.5 1246L2722.5 1233.4Z" fill="#6b4a12"/><path d="M2722.5 1226.2L2729.7 1233.4L2722.5 1240.6L2715.3 1233.4Z" fill="#fff"/><path d="M2722.5 1229.8L2726.1 1233.4L2722.5 1237L2718.9 1233.4Z" fill="none" stroke="#7ab829" stroke-width="1.6"/></g>
</svg>
<span class="t hdr" style="left:19.45px;transform:scaleX(0.933)">DowGoldEquals1</span>
<span class="t hdr" style="left:197.94px;transform:scaleX(1.014)">published</span>
<span class="t hdr" style="left:308.62px;transform:scaleX(1.006)">on</span>
<span class="t hdr" style="left:343.56px;transform:scaleX(0.990)">TradingView.com,</span>
<span class="t hdr" style="left:534.5px;transform:scaleX(0.908)">Dec</span>
<span class="t hdr" style="left:582.94px;transform:scaleX(0.991)">11,</span>
<span class="t hdr" style="left:620.89px;transform:scaleX(0.891)">2024</span>
<span class="t hdr" style="left:675.75px;transform:scaleX(0.960)">11:07</span>
<span class="t hdr" style="left:737.34px;transform:scaleX(0.897)">UTC-5</span>
<span class="t lg" style="left:34.47px;transform:scaleX(0.856)">CFDs</span>
<span class="t lg" style="left:92.2px;transform:scaleX(1.029)">on</span>
<span class="t lg" style="left:125.17px;transform:scaleX(0.992)">Silver</span>
<span class="t lg" style="left:190.29px;transform:scaleX(0.899)">(US$</span>
<span class="t lg" style="left:245.54px;transform:scaleX(0.971)">/</span>
<span class="t lg" style="left:262.53px;transform:scaleX(1.054)">OZ),</span>
<span class="t lg" style="left:318.32px;transform:scaleX(1.017)">3M,</span>
<span class="t lg" style="left:363.94px;transform:scaleX(0.911)">TVC</span>
<span class="t lg" style="left:419.23px;transform:scaleX(0.974)">O31.13</span>
<span class="t lg" style="left:506.02px;transform:scaleX(0.980)">H34.86</span>
<span class="t lg" style="left:591.33px;transform:scaleX(0.969)">L29.65</span>
<span class="t lg" style="left:672.25px;transform:scaleX(0.952)">C32.04</span>
<span class="t lg" style="left:756.25px;transform:scaleX(0.954)">+0.90</span>
<span class="t lg" style="left:818.86px;transform:scaleX(0.899)">(+2.89%)</span>
<span class="t note" style="left:2369.51px;transform:scaleX(1.004)">Next</span>
<span class="t note" style="left:2448.15px;transform:scaleX(0.896)">Stop</span>
<span class="t note" style="left:2522.61px;transform:scaleX(0.911)">$48?</span>
<div class="pl" style="top:108.4px">60.00</div>
<div class="pl" style="top:260.8px">38.00</div>
<div class="pl" style="top:339.2px">30.00</div>
<div class="pl" style="top:414px">24.00</div>
<div class="pl" style="top:474.3px">20.00</div>
<div class="pl" style="top:548.5px">16.00</div>
<div class="pl" style="top:618.1px">13.00</div>
<div class="pl" style="top:704.7px">10.00</div>
<div class="pl" style="top:778.7px">8.00</div>
<div class="pl" style="top:848px">6.50</div>
<div class="pl" style="top:916.5px">5.30</div>
<div class="pl" style="top:986.1px">4.30</div>
<div class="pl" style="top:1044.6px">3.60</div>
<div class="pl" style="top:1104.9px">3.00</div>
<div class="tl" style="left:79.2px">1970</div>
<div class="tl" style="left:243.5px">1974</div>
<div class="tl" style="left:407.8px">1978</div>
<div class="tl" style="left:572.1px">1982</div>
<div class="tl" style="left:736.3px">1986</div>
<div class="tl" style="left:900.6px">1990</div>
<div class="tl" style="left:1064.9px">1994</div>
<div class="tl" style="left:1229.2px">1998</div>
<div class="tl" style="left:1393.5px">2002</div>
<div class="tl" style="left:1557.7px">2006</div>
<div class="tl" style="left:1722px">2010</div>
<div class="tl" style="left:1886.3px">2014</div>
<div class="tl" style="left:2050.6px">2018</div>
<div class="tl" style="left:2214.9px">2022</div>
<div class="tl" style="left:2379.1px">2026</div>
<div class="tl" style="left:2543.4px">2030</div>
<div class="mask"></div>
<div class="usd"><span>USD</span></div>
<div class="tag" style="top:181.8px;background:#fff9c4">48.00</div>
<div class="tag" style="top:314.8px;background:#fff">32.04</div>
<div class="t gb">GoldBroker</div>
<div class="t tv">TradingView</div>
<div class="wm"><div style="font-size:9.3px">SINO SOUND</div><div style="font-size:8.5px;letter-spacing:7.6px;margin-top:1px">漢聲集團</div></div>
</body>
</html>
